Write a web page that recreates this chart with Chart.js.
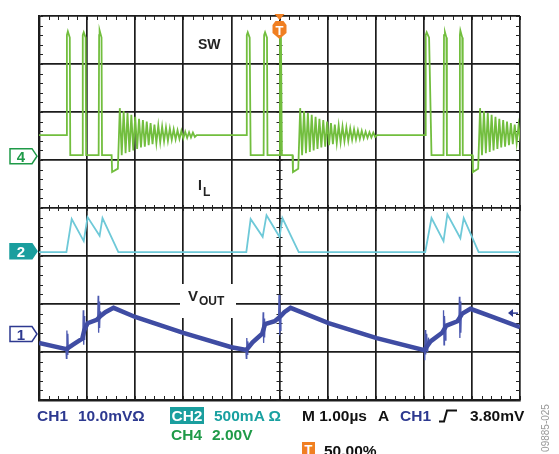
<!DOCTYPE html>
<html>
<head>
<meta charset="utf-8">
<script src="https://cdn.jsdelivr.net/npm/chart.js@4.4.1/dist/chart.umd.min.js"></script>
<style>
  body { margin: 0; background: #fff; }
  #wrap { position: relative; width: 559px; height: 454px; overflow: hidden;
          font-family: "Liberation Sans", Arial, sans-serif; font-weight: bold; }
  #wrap canvas { position: absolute; left: 0; top: 0; }
  .t { position: absolute; white-space: nowrap; line-height: 1; }
  .row { font-size: 15.5px; }
  .blue { color: #2d3990; }
  .teal { color: #18a0a0; }
  .green { color: #1f9a48; }
  .mk { position: absolute; width: 22px; text-align: center; font-size: 15px; line-height: 1; }
</style>
</head>
<body>
<div id="wrap">
  <canvas id="scope" width="559" height="454"></canvas>

  <div class="t" style="left:198px;top:37px;font-size:14px;color:#222">SW</div>
  <div class="t" style="left:198px;top:178px;font-size:14px;color:#222">I</div>
  <div class="t" style="left:203px;top:186px;font-size:12px;color:#222">L</div>
  <div class="t" style="left:180px;top:284px;width:56px;height:34px;background:#fff"></div>
  <div class="t" style="left:188px;top:288px;font-size:15px;color:#222">V</div>
  <div class="t" style="left:199px;top:295px;font-size:12px;color:#222">OUT</div>

  <div id="m4" class="mk green">4</div>
  <div id="m2" class="mk" style="color:#fff">2</div>
  <div id="m1" class="mk blue">1</div>
  <div id="mT" class="mk" style="width:14px;font-size:13px;color:#fff">T</div>

  <div class="t row blue" style="left:37px;top:408px">CH1</div>
  <div class="t row blue" style="left:78px;top:408px">10.0mVΩ</div>
  <div class="t row" style="left:170px;top:407px;width:34px;height:16px;background:#1a9e9e;color:#fff;text-align:center;padding-top:1px">CH2</div>
  <div class="t row teal" style="left:214px;top:408px">500mA Ω</div>
  <div class="t row green" style="left:171px;top:427px">CH4</div>
  <div class="t row green" style="left:212px;top:427px">2.00V</div>
  <div class="t row" style="left:302px;top:408px;color:#111">M 1.00µs</div>
  <div class="t row" style="left:378px;top:408px;color:#111">A</div>
  <div class="t row blue" style="left:400px;top:408px">CH1</div>
  <svg style="position:absolute;left:439px;top:409px" width="19" height="14"><path d="M0 12.5 H5 L8 1.5 H18" fill="none" stroke="#111" stroke-width="2"/></svg>
  <div class="t row" style="left:470px;top:408px;color:#111">3.80mV</div>
  <div class="t" style="left:302px;top:442px;width:13px;height:14px;background:#f07f22;color:#fff;font-size:13px;text-align:center;padding-top:1px">T</div>
  <div class="t row" style="left:324px;top:443px;color:#111">50.00%</div>
  <div class="t" style="left:521px;top:423px;width:50px;font-size:10px;font-weight:normal;color:#999;transform:rotate(-90deg);text-align:center">09885-025</div>
</div>

<script>
// time in µs (1 µs/div, trigger at 0), level in screen divisions (0 = centre line)
const X_MIN = -5, X_MAX = 5, Y_MIN = -4, Y_MAX = 4;

// channel ground markers and trigger level (divisions)
const CH4_LEVEL = 1.08;
const CH2_LEVEL = -0.90;
const CH1_LEVEL = -2.625;
const TRIG_TIME = 0;
const TRIG_LEVEL = -2.19;

// SW (CH4): three switching pulses, a dip below ground, then ringing
const swIdle = 1.52;
const swBurst1 = [[-5, 1.52], [-4.43, 1.52], [-4.42, 3.6], [-4.40, 3.68], [-4.36, 3.55], [-4.35, 1.10],
  [-4.10, 1.10], [-4.09, 3.6], [-4.07, 3.66], [-4.03, 3.55], [-4.02, 1.10],
  [-3.76, 1.10], [-3.75, 3.6], [-3.74, 3.7], [-3.70, 3.55], [-3.69, 1.10],
  [-3.49, 1.10], [-3.48, 0.75], [-3.36, 0.82]];
const swBurst2 = [[-0.69, 1.52], [-0.68, 3.6], [-0.66, 3.66], [-0.62, 3.55], [-0.60, 1.10],
  [-0.33, 1.10], [-0.32, 3.6], [-0.30, 3.66], [-0.26, 3.55], [-0.25, 1.10],
  [0, 1.10], [0.01, 3.6], [0.03, 3.62], [0.05, 1.10],
  [0.27, 1.10], [0.28, 0.75], [0.39, 0.82]];
const swBurst3 = [[3.03, 1.52], [3.04, 3.6], [3.06, 3.66], [3.11, 3.55], [3.16, 1.10],
  [3.41, 1.10], [3.42, 3.6], [3.44, 3.66], [3.47, 3.55], [3.48, 1.10],
  [3.74, 1.10], [3.75, 3.6], [3.76, 3.7], [3.80, 3.55], [3.81, 1.10],
  [4.01, 1.10], [4.02, 0.75], [4.13, 0.82]];
const swRingStart = [-3.35, 0.40, 4.14];
// ringing peaks/troughs relative to the idle level
const swRing = [0.56, -0.42, 0.50, -0.38, 0.46, -0.35, 0.42, -0.32, 0.38, -0.29, 0.34, -0.26,
  0.31, -0.24, 0.28, -0.21, 0.25, -0.19, 0.22, -0.17, 0.20, -0.15, 0.18, -0.13, 0.16, -0.12,
  0.14, -0.10, 0.12, -0.09, 0.10, -0.08, 0.09, -0.07, 0.07, -0.06, 0.06, -0.05, 0.05, -0.04];
const RING_STEP = 0.04;

// I_L (CH2)
const ilPoints = [[-5, -0.92], [-4.43, -0.92], [-4.32, -0.23], [-4.07, -0.69], [-3.99, -0.19],
  [-3.74, -0.58], [-3.68, -0.21], [-3.35, -0.92],
  [-0.69, -0.92], [-0.60, -0.23], [-0.35, -0.60], [-0.27, -0.15], [0, -0.60], [0.06, -0.21], [0.40, -0.92],
  [3.03, -0.92], [3.16, -0.21], [3.41, -0.69], [3.49, -0.13], [3.76, -0.63], [3.83, -0.21], [4.14, -0.92],
  [5, -0.92]];

// VOUT (CH1) ripple
const voutPoints = [[-5, -2.81], [-4.43, -2.94], [-4.30, -2.85], [-4.10, -2.72], [-4.06, -2.55],
  [-3.99, -2.40], [-3.80, -2.33], [-3.72, -2.25], [-3.62, -2.17], [-3.45, -2.08], [-3.00, -2.27],
  [-2.00, -2.60], [-1.00, -2.90], [-0.69, -2.96], [-0.56, -2.80], [-0.36, -2.62], [-0.30, -2.42],
  [-0.10, -2.36], [0.03, -2.25], [0.10, -2.17], [0.23, -2.08], [1.02, -2.40], [2.02, -2.71],
  [3.01, -2.96], [3.14, -2.78], [3.38, -2.60], [3.47, -2.45], [3.70, -2.36], [3.80, -2.20],
  [3.97, -2.10], [4.40, -2.26], [5, -2.48]];
// switching spikes on VOUT (null separates the clusters)
const voutSpikes = [
  [-4.44, -2.94], [-4.43, -3.13], [-4.42, -2.55], [-4.41, -3.05], [-4.40, -2.62], [-4.39, -2.98], [-4.37, -2.85], [-4.36, null],
  [-4.09, -2.70], [-4.08, -2.13], [-4.07, -2.85], [-4.06, -2.25], [-4.05, -2.75], [-4.04, -2.45], [-4.03, null],
  [-3.78, -2.32], [-3.77, -1.83], [-3.76, -2.60], [-3.75, -1.95], [-3.74, -2.50], [-3.73, -2.15], [-3.72, -2.30], [-3.71, null],
  [-0.70, -2.95], [-0.69, -3.13], [-0.68, -2.71], [-0.67, -3.05], [-0.66, -2.78], [-0.64, -2.90], [-0.63, null],
  [-0.35, -2.60], [-0.34, -2.17], [-0.33, -2.81], [-0.32, -2.30], [-0.31, -2.70], [-0.30, -2.42], [-0.29, null],
  [-0.02, -2.36], [-0.01, -1.81], [0, -2.65], [0.01, -1.95], [0.02, -2.55], [0.03, -2.20], [0.04, null],
  [3.01, -2.96], [3.02, -3.17], [3.03, -2.54], [3.04, -3.05], [3.06, -2.62], [3.08, -3.00], [3.10, -2.70], [3.11, null],
  [3.40, -2.62], [3.41, -2.13], [3.42, -2.85], [3.43, -2.25], [3.45, -2.75], [3.46, -2.45], [3.47, null],
  [3.73, -2.36], [3.74, -1.85], [3.75, -2.71], [3.76, -1.95], [3.77, -2.60], [3.78, -2.20], [3.79, null]];

function ring(t0) {
  const pts = [];
  swRing.forEach((d, i) => pts.push([t0 + 0.03 + i * RING_STEP, swIdle + d]));
  pts.push([t0 + 0.03 + swRing.length * RING_STEP, swIdle]);
  return pts;
}
const toXY = (arr) => arr.map((p) => ({ x: p[0], y: p[1] }));
const swData = [].concat(swBurst1, ring(swRingStart[0]), swBurst2, ring(swRingStart[1]),
  swBurst3, ring(swRingStart[2]));

function marker(ctx, left, yc, fill, stroke) {
  ctx.beginPath();
  ctx.moveTo(left + 10, yc - 7.5);
  ctx.lineTo(left + 32, yc - 7.5);
  ctx.lineTo(left + 37, yc);
  ctx.lineTo(left + 32, yc + 7.5);
  ctx.lineTo(left + 10, yc + 7.5);
  ctx.closePath();
  ctx.fillStyle = fill;
  ctx.fill();
  ctx.lineWidth = 1.5;
  ctx.strokeStyle = stroke;
  ctx.stroke();
}

function place(id, left, top) {
  const el = document.getElementById(id);
  el.style.left = left + "px";
  el.style.top = top + "px";
}

const scopeDecor = {
  id: "scopeDecor",
  beforeDatasetsDraw(chart) {
    const { ctx, chartArea: a, scales: { x, y } } = chart;
    const cx = x.getPixelForValue(0), cy = y.getPixelForValue(0);
    ctx.save();
    ctx.strokeStyle = "#222";
    ctx.lineWidth = 1;
    ctx.beginPath();
    for (let i = 0; i <= 50; i++) {
      const px = Math.round(x.getPixelForValue(X_MIN + i * 0.2)) + 0.5;
      ctx.moveTo(px, a.top); ctx.lineTo(px, a.top + 4);
      ctx.moveTo(px, a.bottom); ctx.lineTo(px, a.bottom - 4);
      ctx.moveTo(px, cy - 3); ctx.lineTo(px, cy + 3);
    }
    for (let i = 0; i <= 40; i++) {
      const py = Math.round(y.getPixelForValue(Y_MIN + i * 0.2)) + 0.5;
      ctx.moveTo(a.left, py); ctx.lineTo(a.left + 4, py);
      ctx.moveTo(a.right, py); ctx.lineTo(a.right - 4, py);
      ctx.moveTo(cx - 3, py); ctx.lineTo(cx + 3, py);
    }
    ctx.stroke();
    ctx.restore();
  },
  afterDraw(chart) {
    const { ctx, chartArea: a, scales: { x, y } } = chart;
    ctx.save();
    const y4 = y.getPixelForValue(CH4_LEVEL);
    const y2 = y.getPixelForValue(CH2_LEVEL);
    const y1 = y.getPixelForValue(CH1_LEVEL);
    const ml = a.left - 39;
    marker(ctx, ml, y4, "#fff", "#1f9a48");
    marker(ctx, ml, y2, "#1a9e9e", "#1a9e9e");
    marker(ctx, ml, y1, "#fff", "#2d3990");
    place("m4", ml + 10, y4 - 7);
    place("m2", ml + 10, y2 - 7);
    place("m1", ml + 10, y1 - 7);

    // trigger position marker
    const tx = x.getPixelForValue(TRIG_TIME);
    ctx.fillStyle = "#f07f22";
    ctx.beginPath();
    ctx.moveTo(tx - 5, a.top - 2); ctx.lineTo(tx + 5, a.top - 2); ctx.lineTo(tx, a.top + 4);
    ctx.closePath(); ctx.fill();
    ctx.beginPath();
    ctx.moveTo(tx - 4, a.top + 5); ctx.lineTo(tx + 4, a.top + 5); ctx.lineTo(tx + 7, a.top + 9);
    ctx.lineTo(tx + 7, a.top + 17); ctx.lineTo(tx, a.top + 23); ctx.lineTo(tx - 7, a.top + 17);
    ctx.lineTo(tx - 7, a.top + 9); ctx.closePath(); ctx.fill();
    place("mT", tx - 7, a.top + 8);

    // trigger level arrow
    const ty = y.getPixelForValue(TRIG_LEVEL);
    ctx.strokeStyle = "#2d3990"; ctx.fillStyle = "#2d3990"; ctx.lineWidth = 1.5;
    ctx.beginPath(); ctx.moveTo(a.right - 2, ty); ctx.lineTo(a.right - 10, ty); ctx.stroke();
    ctx.beginPath(); ctx.moveTo(a.right - 12, ty); ctx.lineTo(a.right - 7, ty - 4); ctx.lineTo(a.right - 7, ty + 4);
    ctx.closePath(); ctx.fill();
    ctx.restore();
  }
};

const lineDs = (label, data, color, width) => ({
  label: label, data: toXY(data), borderColor: color, borderWidth: width,
  pointRadius: 0, tension: 0, fill: false, spanGaps: false
});

new Chart(document.getElementById("scope").getContext("2d"), {
  type: "line",
  data: {
    datasets: [
      lineDs("VOUT", voutPoints, "#3f4ca3", 4.5),
      lineDs("VOUT spikes", voutSpikes, "#4c59b0", 1.3),
      lineDs("IL", ilPoints, "#6ec9d8", 1.8),
      lineDs("SW", swData, "#72be3e", 1.8)
    ]
  },
  options: {
    responsive: false,
    animation: false,
    events: [],
    layout: { padding: { left: 39, right: 39, top: 16, bottom: 54 } },
    plugins: { legend: { display: false }, tooltip: { enabled: false } },
    scales: {
      x: {
        type: "linear", min: X_MIN, max: X_MAX,
        ticks: { display: false, stepSize: 1 },
        grid: { color: "#1c1c1c", lineWidth: 1.7, drawTicks: false },
        border: { color: "#1c1c1c", width: 2.4 },
        afterFit: (s) => { s.height = 0; }
      },
      y: {
        type: "linear", min: Y_MIN, max: Y_MAX,
        ticks: { display: false, stepSize: 1 },
        grid: { color: "#1c1c1c", lineWidth: 1.7, drawTicks: false },
        border: { color: "#1c1c1c", width: 2.4 },
        afterFit: (s) => { s.width = 0; }
      }
    }
  },
  plugins: [scopeDecor]
});
</script>
</body>
</html>
